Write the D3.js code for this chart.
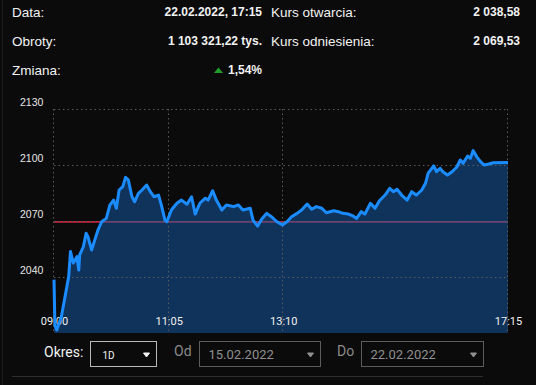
<!DOCTYPE html>
<html>
<head>
<meta charset="utf-8">
<script src="https://cdn.jsdelivr.net/npm/d3@7/dist/d3.min.js"></script>
<style>
  html, body { margin: 0; padding: 0; background: #0b0b0b; }
  svg { display: block; }
</style>
</head>
<body>
<script>
// intraday quotes, 22.02.2022
var times = ["09:00","09:01","09:03","09:08","09:12","09:16","09:18","09:21","09:25","09:27",
  "09:28","09:32","09:35","09:37","09:41","09:45","09:48","09:52","09:57","10:01",
  "10:05","10:08","10:11","10:15","10:18","10:21","10:25","10:28","10:32","10:36",
  "10:41","10:45","10:49","10:54","10:57","11:01","11:03","11:08","11:14","11:19",
  "11:25","11:30","11:34","11:39","11:45","11:48","11:53","11:57","12:03","12:08",
  "12:16","12:21","12:26","12:34","12:37","12:42","12:47","12:52","12:57","13:03",
  "13:09","13:14","13:19","13:25","13:30","13:36","13:41","13:46","13:52","13:57",
  "14:05","14:10","14:15","14:21","14:26","14:30","14:35","14:39","14:45","14:50",
  "14:55","15:01","15:06","15:10","15:14","15:19","15:25","15:30","15:35","15:41",
  "15:45","15:48","15:54","15:57","16:01","16:04","16:09","16:14","16:19","16:23",
  "16:26","16:31","16:34","16:37","16:41","16:45","16:49","16:54","16:59","17:15"];
var values = [2038.6,2014.0,2011.6,2018.7,2029.4,2040.2,2053.6,2047.5,2050.9,2043.7,
  2051.8,2056.2,2063.4,2061.6,2054.5,2060.7,2065.2,2069.6,2071.4,2078.6,
  2081.2,2076.8,2086.6,2088.4,2093.4,2092.0,2083.0,2080.3,2084.8,2086.6,
  2089.3,2085.7,2083.0,2083.9,2078.6,2070.5,2069.6,2075.9,2079.5,2081.2,
  2079.0,2083.0,2073.7,2079.5,2082.2,2081.2,2086.2,2081.2,2075.9,2078.6,
  2077.7,2078.6,2075.9,2076.8,2070.5,2067.3,2071.4,2074.1,2072.3,2069.6,
  2067.9,2069.6,2072.3,2074.1,2075.9,2079.1,2076.3,2077.7,2076.8,2074.4,
  2075.5,2075.0,2074.1,2073.7,2072.7,2071.4,2075.0,2073.7,2079.5,2076.8,
  2081.0,2083.9,2087.5,2085.7,2087.0,2083.9,2081.2,2085.7,2083.9,2086.6,
  2090.2,2095.6,2099.5,2096.4,2098.2,2096.4,2094.6,2096.4,2098.8,2102.7,
  2100.9,2104.8,2103.6,2107.7,2104.4,2101.8,2100.0,2100.5,2101.2,2101.4];
var refValue = 2069.53;
var yTicks = [2040, 2070, 2100, 2130];
var xTicks = ["09:00", "11:05", "13:10", "17:15"];

var infoLeft = [["Data:", "22.02.2022, 17:15"], ["Obroty:", "1 103 321,22 tys."], ["Zmiana:", "1,54%"]];
var infoRight = [["Kurs otwarcia:", "2 038,58"], ["Kurs odniesienia:", "2 069,53"]];

var W = 536, H = 385;
var margin = {top: 109, right: 28, bottom: 52, left: 54},
    width = W - margin.left - margin.right,
    height = H - margin.top - margin.bottom;

var parse = d3.timeParse("%Y-%m-%d %H:%M");
function t(s) { return parse("2022-02-22 " + s); }
var data = times.map(function(s, i) { return {date: t(s), value: values[i]}; });

var svg = d3.select("body").append("svg")
    .attr("width", W)
    .attr("height", H);

svg.append("line")
    .attr("x1", 2.5).attr("x2", 2.5).attr("y1", 0).attr("y2", H)
    .attr("stroke", "#1c1c1c");

// header
var sans = "'Liberation Sans', Arial, sans-serif";
infoLeft.forEach(function(r, i) {
    var y = 17 + i * 29;
    svg.append("text").attr("x", 12).attr("y", y)
        .attr("font-family", sans).attr("font-size", 13.5).attr("fill", "#f2f2f2").text(r[0]);
    svg.append("text").attr("x", 262).attr("y", y - 1).attr("text-anchor", "end")
        .attr("font-family", sans).attr("font-size", 12).attr("font-weight", "bold")
        .attr("fill", "#f2f2f2").text(r[1]);
});
// green up arrow next to the change
svg.append("path")
    .attr("d", "M214,73 L218.5,67.5 L223,73 Z")
    .attr("fill", "#1f9e2a");
infoRight.forEach(function(r, i) {
    var y = 17 + i * 29;
    svg.append("text").attr("x", 271).attr("y", y)
        .attr("font-family", sans).attr("font-size", 13.5).attr("fill", "#f2f2f2").text(r[0]);
    svg.append("text").attr("x", 520).attr("y", y - 1).attr("text-anchor", "end")
        .attr("font-family", sans).attr("font-size", 12).attr("font-weight", "bold")
        .attr("fill", "#f2f2f2").text(r[1]);
});

var x = d3.scaleTime()
    .domain([t("09:00"), t("17:15")])
    .range([0, width]);
var y = d3.scaleLinear()
    .domain([2010, 2130])
    .range([height, 0]);

var g = svg.append("g")
    .attr("transform", "translate(" + margin.left + "," + margin.top + ")");

// reference line sits under the translucent area
g.append("line")
    .attr("x1", 0).attr("x2", width)
    .attr("y1", y(refValue)).attr("y2", y(refValue))
    .attr("stroke", "#c4243e").attr("stroke-width", 1.6);

var area = d3.area()
    .x(function(d) { return x(d.date); })
    .y0(height)
    .y1(function(d) { return y(d.value); });

g.append("path")
    .datum(data)
    .attr("d", area)
    .attr("fill", "rgb(22,92,172)")
    .attr("fill-opacity", 0.5);

// grid
g.selectAll(".hgrid")
    .data(yTicks)
    .enter().append("line")
    .attr("class", "hgrid")
    .attr("x1", 0).attr("x2", width)
    .attr("y1", function(d) { return Math.round(y(d)) + 0.5; })
    .attr("y2", function(d) { return Math.round(y(d)) + 0.5; })
    .attr("stroke", "#5a5a5a").attr("stroke-dasharray", "1.5,3");

g.selectAll(".vgrid")
    .data(xTicks)
    .enter().append("line")
    .attr("class", "vgrid")
    .attr("x1", function(d) { return Math.round(x(t(d))) - 0.5; })
    .attr("x2", function(d) { return Math.round(x(t(d))) - 0.5; })
    .attr("y1", 0).attr("y2", height)
    .attr("stroke", "#5a5a5a").attr("stroke-dasharray", "1.5,3");

// axes as plain labels
var yAxis = g.append("g")
    .call(d3.axisLeft(y).tickValues(yTicks).tickFormat(d3.format("d")).tickSize(0).tickPadding(0));
yAxis.select(".domain").remove();
yAxis.selectAll("text")
    .attr("x", -34).attr("dy", "-0.35em").attr("text-anchor", "start")
    .attr("font-family", sans).attr("font-size", 10.5).attr("fill", "#e6e6e6");

var xAxis = g.append("g")
    .attr("transform", "translate(0," + (height - 16) + ")")
    .call(d3.axisBottom(x).tickValues(xTicks.map(t)).tickFormat(d3.timeFormat("%H:%M")).tickSize(0).tickPadding(0));
xAxis.select(".domain").remove();
xAxis.selectAll("text")
    .attr("font-family", "Roboto, sans-serif").attr("font-size", 11).attr("fill", "#f0f0f0");

var line = d3.line()
    .x(function(d) { return x(d.date); })
    .y(function(d) { return y(d.value); });

g.append("path")
    .datum(data)
    .attr("d", line)
    .attr("fill", "none")
    .attr("stroke", "#1a8cff")
    .attr("stroke-width", 3)
    .attr("stroke-linejoin", "round");

// period controls
var ctrl = svg.append("g").attr("font-family", "Roboto, sans-serif");
ctrl.append("text").attr("x", 44).attr("y", 357).attr("font-size", 14).attr("fill", "#f2f2f2").text("Okres:");
ctrl.append("text").attr("x", 174).attr("y", 356).attr("font-size", 14).attr("fill", "#8a8a8a").text("Od");
ctrl.append("text").attr("x", 337).attr("y", 356).attr("font-size", 14).attr("fill", "#8a8a8a").text("Do");

var boxes = [
    {x: 90.5, w: 66, label: "1D", stroke: "#b8b8b8", color: "#f2f2f2", size: 10, chev: "#f2f2f2"},
    {x: 199.5, w: 121, label: "15.02.2022", stroke: "#5c5c5c", color: "#8f8f8f", size: 13, chev: "#8f8f8f"},
    {x: 361.5, w: 122, label: "22.02.2022", stroke: "#5c5c5c", color: "#8f8f8f", size: 13, chev: "#8f8f8f"}
];
boxes.forEach(function(b) {
    ctrl.append("rect").attr("x", b.x).attr("y", 341.5).attr("width", b.w).attr("height", 25)
        .attr("fill", "none").attr("stroke", b.stroke);
    ctrl.append("text").attr("x", b.x + (b.size < 12 ? 12 : 9)).attr("y", 358.5)
        .attr("font-size", b.size).attr("fill", b.color).text(b.label);
    var cx = b.x + b.w - 10;
    ctrl.append("path")
        .attr("d", "M" + (cx - 3) + ",353 L" + (cx + 3) + ",353 L" + cx + ",357 Z")
        .attr("fill", b.chev)
        .attr("stroke", b.chev).attr("stroke-width", 1).attr("stroke-linejoin", "round");
});

svg.append("line")
    .attr("x1", 12).attr("x2", 483).attr("y1", 376.5).attr("y2", 376.5)
    .attr("stroke", "#2e2e2e");
</script>
</body>
</html>
